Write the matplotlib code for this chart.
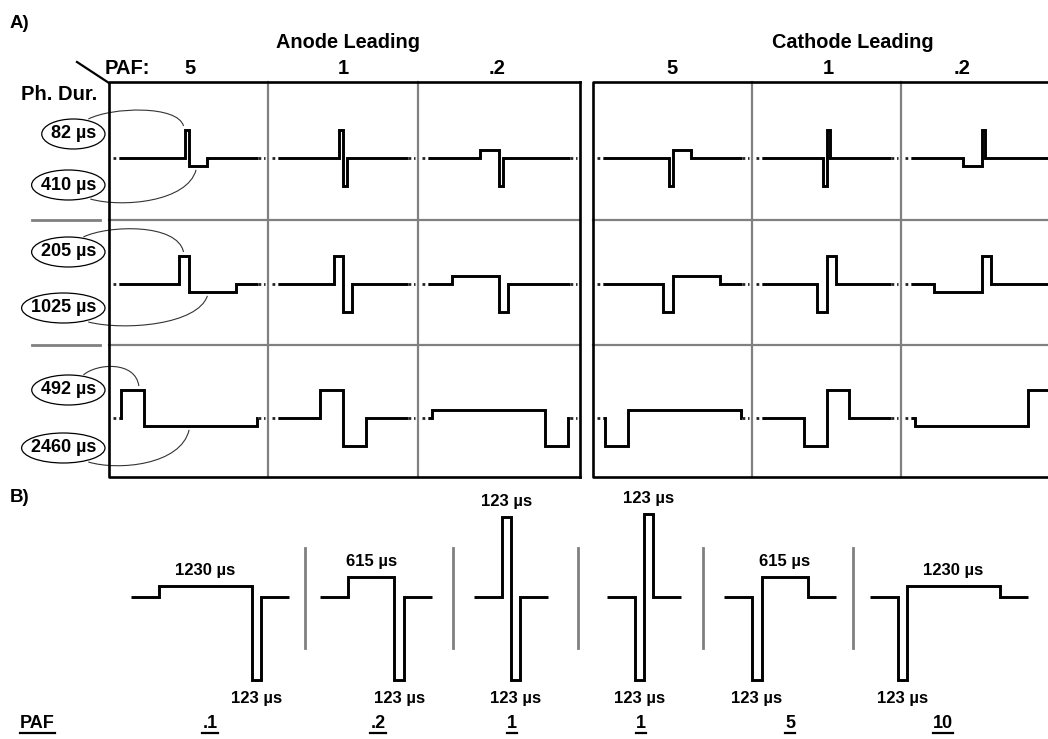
import numpy as np
import matplotlib
matplotlib.use("Agg")
import matplotlib.pyplot as plt
from matplotlib.patches import Ellipse, PathPatch
from matplotlib.path import Path

plt.rcParams['font.family'] = ['Liberation Sans', 'DejaVu Sans']
plt.rcParams['font.weight'] = 'bold'

# ---- panel A data: phase durations per row, PAF per column ----
row_short_us = [82, 205, 492]
row_long_us = [410, 1025, 2460]
paf_cols = [5, 1, 0.2]
paf_col_labels = ['5', '1', '.2']
polarity_names = ['Anode Leading', 'Cathode Leading']
polarity_sign = [1, -1]
long_height_A = 0.28      # long (low) phase height relative to short phase, as drawn

# ---- panel B data ----
b_paf_labels = ['.1', '.2', '1', '1', '5', '10']
b_phase1_us = [1230, 615, 123, 123, 123, 123]
b_phase2_us = [123, 123, 123, 123, 615, 1230]
b_lead_sign = [1, 1, 1, -1, -1, -1]
b_phase1_h = [0.13, 0.24, 0.96, 1.0, 1.0, 1.0]
b_phase2_h = [1.0, 1.0, 1.0, 1.0, 0.24, 0.13]

# ---- layout (pixels) ----
A_xedges = [[109, 268, 418, 580], [593, 752, 901, 1062]]
A_yedges = [82, 220, 345, 477]
A_base = [158, 284, 418]
A_scale = 0.046          # px per us
A_h = 28
A_label_x = [[190, 343, 497], [672, 828, 962]]
A_head_x = [348, 853]
ell_y = [(134, 185), (252, 308), (390, 448)]

B_base = 597
B_scale = 0.075
B_h = 83
B_centers = [210, 376, 511, 644, 780, 949]
B_paf_x = [210, 378, 512, 641, 790, 943]
B_lead = 28

LW = 2.1
GREY = '#808080'

fig = plt.figure(figsize=(10.48, 7.39), dpi=100)
ax = fig.add_axes([0, 0, 1, 1])
ax.set_xlim(0, 1048)
ax.set_ylim(739, 0)
ax.axis('off')


def steps(x0, durs, hts, signs, base, scale, h):
    xs, ys = [x0], [base]
    x = x0
    for d, hh, s in zip(durs, hts, signs):
        y = base - s * hh * h
        xs += [x, x + d * scale]
        ys += [y, y]
        x += d * scale
    xs.append(x)
    ys.append(base)
    return xs, ys


# ---------------- panel A ----------------
ax.text(10, 23, 'A)', fontsize=13.5, ha='left', va='center')
ax.text(105, 69, 'PAF:', fontsize=14.5, ha='left', va='center')
ax.text(97, 94, 'Ph. Dur.', fontsize=14.5, ha='right', va='center')
ax.plot([77, 109], [62, 83], color='black', lw=1.6)
for y in A_yedges[1:3]:
    ax.plot([32, 100], [y, y], color=GREY, lw=2)

anchors = []
for p, sign in enumerate(polarity_sign):
    xe = A_xedges[p]
    ax.text(A_head_x[p], 42, polarity_names[p], fontsize=14.3, ha='center', va='center')
    for c in range(3):
        ax.text(A_label_x[p][c], 69, paf_col_labels[c], fontsize=14.5, ha='center', va='center')
    # grid
    for x in xe[1:3]:
        ax.plot([x, x], [A_yedges[0], A_yedges[-1]], color=GREY, lw=1.6)
    for y in A_yedges[1:3]:
        ax.plot([xe[0], xe[-1]], [y, y], color=GREY, lw=1.6)
    ax.plot([xe[-1], xe[0], xe[0], xe[-1]], [A_yedges[0], A_yedges[0], A_yedges[-1], A_yedges[-1]],
            color='black', lw=1.9)
    if p == 0:
        ax.plot([xe[-1], xe[-1]], [A_yedges[0], A_yedges[-1]], color='black', lw=1.9)

    for ri in range(3):
        s_us, l_us = row_short_us[ri], row_long_us[ri]
        base = A_base[ri]
        for c, paf in enumerate(paf_cols):
            left, right = xe[c], xe[c + 1]
            if paf > 1:
                durs, hts = [s_us, l_us], [1, long_height_A]
            elif paf == 1:
                durs, hts = [s_us, s_us], [1, 1]
            else:
                durs, hts = [l_us, s_us], [long_height_A, 1]
            d1, d2 = durs[0] * A_scale, durs[1] * A_scale
            start = (left + right) / 2 - d1
            if start < left + 14:
                start = left + 14
            if start + d1 + d2 > right - 11:
                start = right - 11 - d1 - d2
            xs, ys = steps(start, durs, hts, [sign, -sign], base, A_scale, A_h)
            xs = [left + 10] + xs + [right - 10]
            ys = [base] + ys + [base]
            ax.plot(xs, ys, color='black', lw=LW, solid_joinstyle='miter', solid_capstyle='butt')
            ax.plot([left + 4, left + 10], [base, base], color='#222222', lw=2, ls=(0, (1, 1)))
            ax.plot([right - 10, right - 3], [base, base], color='#222222', lw=2, ls=(0, (1, 1)))
            if p == 0 and c == 0:
                anchors.append((start, d1, d2, base - A_h, base + long_height_A * A_h))

# ph. dur. labels with ellipses
labels_A = []
for ri in range(3):
    for k, us in enumerate([row_short_us[ri], row_long_us[ri]]):
        t = ax.text(96, ell_y[ri][k], f'{us} µs', fontsize=13, ha='right', va='center')
        labels_A.append((ri, k, t))

# ---------------- panel B ----------------
ax.text(10, 497, 'B)', fontsize=13.5, ha='left', va='center')
b_ends = []
for i in range(len(b_paf_labels)):
    d1, d2 = b_phase1_us[i] * B_scale, b_phase2_us[i] * B_scale
    total = 2 * B_lead + d1 + d2
    x0 = B_centers[i] - total / 2
    s = b_lead_sign[i]
    xs, ys = steps(x0 + B_lead, [b_phase1_us[i], b_phase2_us[i]], [b_phase1_h[i], b_phase2_h[i]],
                   [s, -s], B_base, B_scale, B_h)
    xs = [x0] + xs + [x0 + total]
    ys = [B_base] + ys + [B_base]
    ax.plot(xs, ys, color='black', lw=LW, solid_joinstyle='miter', solid_capstyle='butt')
    b_ends.append((x0, x0 + total))
    # duration labels
    px = x0 + B_lead
    for d, hh, sg in zip([b_phase1_us[i], b_phase2_us[i]], [b_phase1_h[i], b_phase2_h[i]], [s, -s]):
        w = d * B_scale
        if sg > 0:
            ax.text(px + w / 2, B_base - hh * B_h - 16, f'{d} µs', fontsize=12, ha='center', va='center')
        else:
            ax.text(px + w / 2, B_base + hh * B_h + 19, f'{d} µs', fontsize=12, ha='center', va='center')
        px += w

for a, b in zip(b_ends[:-1], b_ends[1:]):
    xm = (a[1] + b[0]) / 2
    ax.plot([xm, xm], [548, 648], color=GREY, lw=2)

under = [ax.text(20, 724, 'PAF', fontsize=13, ha='left', va='center')]
for i, lab in enumerate(b_paf_labels):
    under.append(ax.text(B_paf_x[i], 724, lab, fontsize=13, ha='center', va='center'))

# ---------------- measured decorations ----------------
fig.canvas.draw()
rend = fig.canvas.get_renderer()
inv = ax.transData.inverted()


def dbox(t):
    bb = t.get_window_extent(renderer=rend)
    (x0, y0), (x1, y1) = inv.transform([(bb.x0, bb.y0), (bb.x1, bb.y1)])
    return min(x0, x1), max(x0, x1), min(y0, y1), max(y0, y1)


for t in under:
    x0, x1, y0, y1 = dbox(t)
    ax.plot([x0, x1], [y1, y1], color='black', lw=1.6)

for ri, k, t in labels_A:
    x0, x1, y0, y1 = dbox(t)
    cx, cy = (x0 + x1) / 2, (y0 + y1) / 2
    w, h = x1 - x0 + 18, 30
    ax.add_patch(Ellipse((cx, cy), w, h, fill=False, ec='black', lw=0.9))
    start, d1, d2, top, low = anchors[ri]
    if k == 0:
        P0 = (cx + 15, cy - h / 2)
        P3 = (start + d1 - 5, top - 4)
        dx = P3[0] - P0[0]
        P1 = (P0[0] + 0.25 * dx, P0[1] - 12)
        P2 = (P3[0] - 0.06 * dx, P0[1] - 14)
    else:
        P0 = (cx + 0.3 * w, cy + h / 2 - 1)
        P3 = (start + d1 + 0.4 * d2, low + 4)
        dx = P3[0] - P0[0]
        P1 = (P0[0] + 0.3 * dx, P0[1] + 9)
        P2 = (P3[0] - 0.08 * dx, P0[1] + 3)
    path = Path([P0, P1, P2, P3], [Path.MOVETO, Path.CURVE4, Path.CURVE4, Path.CURVE4])
    ax.add_patch(PathPatch(path, fill=False, ec='#333333', lw=0.8))

fig.savefig('out.png', dpi=100)
